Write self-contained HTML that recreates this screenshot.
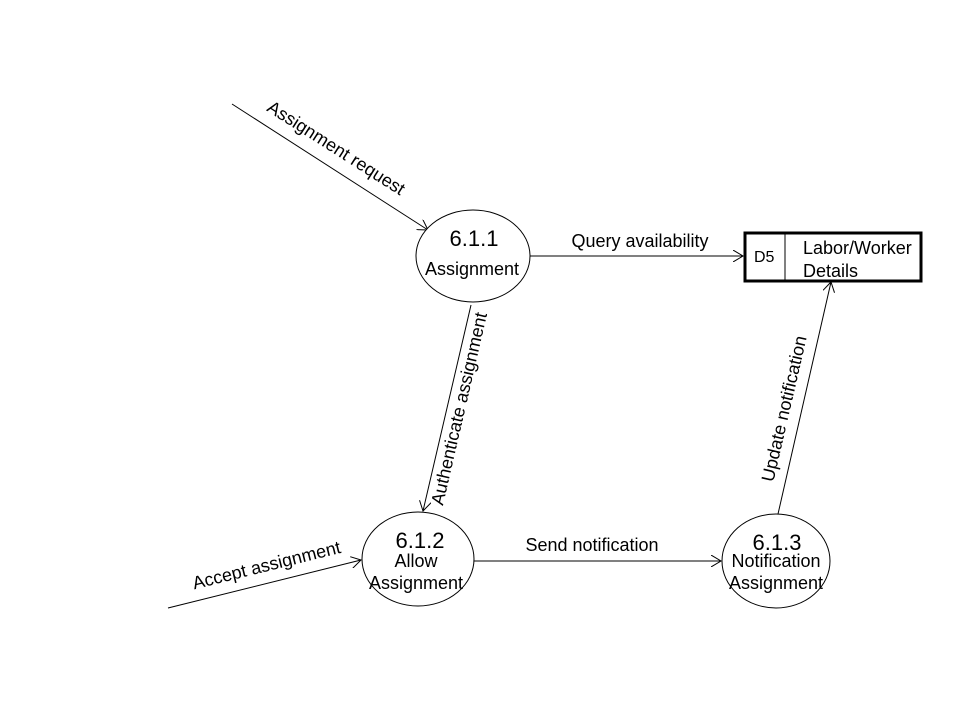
<!DOCTYPE html>
<html><head><style>body{margin:0;background:#fff}svg text{font-family:"Liberation Sans",sans-serif;fill:#000}</style></head>
<body>
<svg width="960" height="720" viewBox="0 0 960 720" xmlns="http://www.w3.org/2000/svg">
<defs><marker id="a" markerWidth="12" markerHeight="12" refX="10" refY="6" orient="auto" markerUnits="userSpaceOnUse"><path d="M0,0 L10,6 L0,12" fill="none" stroke="#000" stroke-width="1"/></marker></defs>
<g stroke="#000" stroke-width="1" fill="none">
<line x1="232" y1="104" x2="428" y2="230" marker-end="url(#a)"/>
<line x1="530" y1="256" x2="743" y2="256" marker-end="url(#a)"/>
<line x1="471" y1="305" x2="423" y2="511" marker-end="url(#a)"/>
<line x1="168" y1="608" x2="361" y2="560" marker-end="url(#a)"/>
<line x1="474" y1="561" x2="721" y2="561" marker-end="url(#a)"/>
<line x1="778" y1="514" x2="831" y2="282" marker-end="url(#a)"/>
<ellipse cx="473" cy="256" rx="57" ry="46" fill="#fff"/>
<ellipse cx="418" cy="559" rx="56" ry="47" fill="#fff"/>
<ellipse cx="776" cy="561" rx="54" ry="47" fill="#fff"/>
<rect x="745" y="233" width="176" height="48" stroke-width="3" fill="#fff"/>
<line x1="785" y1="234" x2="785" y2="280"/>
</g>
<text x="474" y="246" font-size="22" text-anchor="middle">6.1.1</text>
<text x="472" y="275" font-size="18" text-anchor="middle">Assignment</text>
<text x="420" y="548" font-size="22" text-anchor="middle">6.1.2</text>
<text x="416" y="567" font-size="18" text-anchor="middle">Allow</text>
<text x="416" y="589" font-size="18" text-anchor="middle">Assignment</text>
<text x="777" y="550" font-size="22" text-anchor="middle">6.1.3</text>
<text x="776" y="567" font-size="18" text-anchor="middle">Notification</text>
<text x="776" y="589" font-size="18" text-anchor="middle">Assignment</text>
<text x="754" y="262" font-size="16">D5</text>
<text x="803" y="254" font-size="18">Labor/Worker</text>
<text x="803" y="277" font-size="18">Details</text>
<text x="640" y="247" font-size="18" text-anchor="middle">Query availability</text>
<text x="592" y="551" font-size="18" text-anchor="middle">Send notification</text>
<text transform="translate(333,153) rotate(32.5)" font-size="18" text-anchor="middle">Assignment request</text>
<text transform="translate(465,410) rotate(-77)" font-size="18" text-anchor="middle">Authenticate assignment</text>
<text transform="translate(268,571) rotate(-14)" font-size="18" text-anchor="middle">Accept assignment</text>
<text transform="translate(790,410) rotate(-77)" font-size="18" text-anchor="middle">Update notification</text>
</svg>
</body></html>
